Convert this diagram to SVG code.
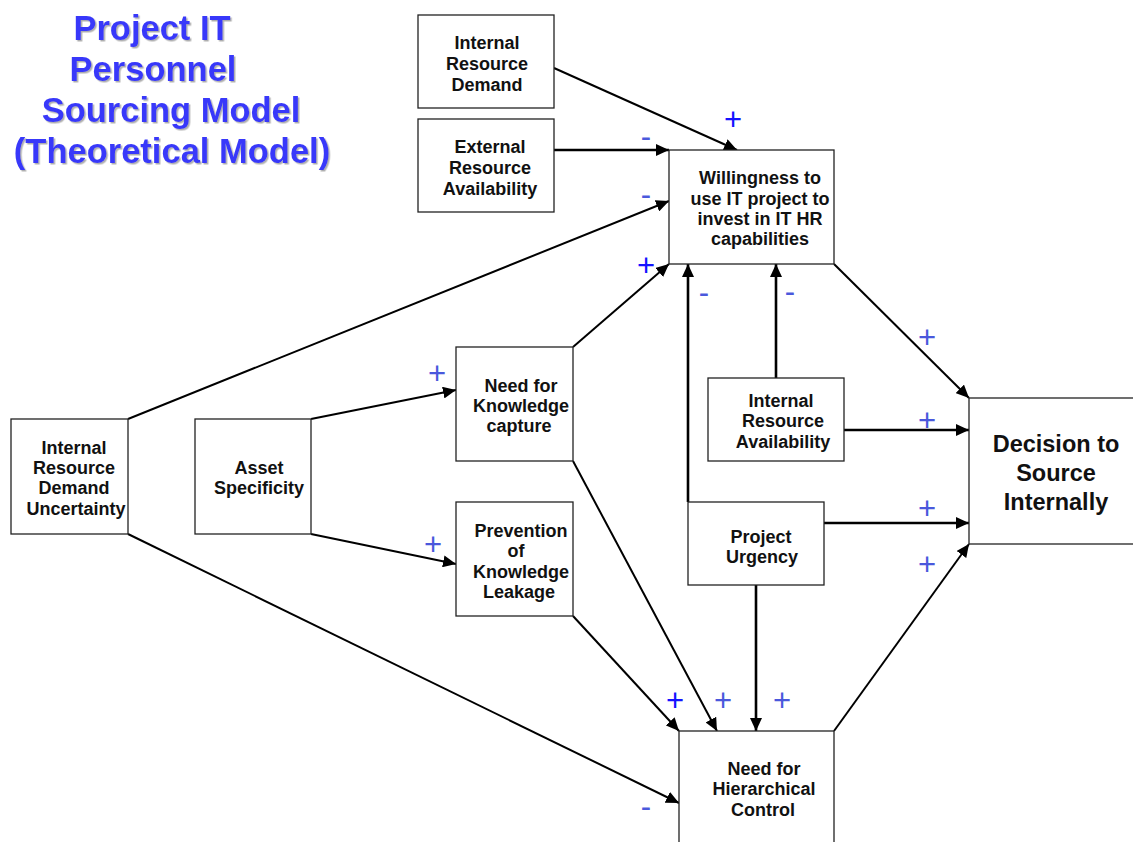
<svg xmlns="http://www.w3.org/2000/svg" width="1133" height="842" viewBox="0 0 1133 842">
  <defs>
    <marker id="arrow" markerUnits="userSpaceOnUse" markerWidth="14" markerHeight="12" refX="13" refY="6" orient="auto">
      <path d="M0,0 L13,6 L0,12 z" fill="#000"/>
    </marker>
    <filter id="shadow" x="-10%" y="-10%" width="120%" height="130%">
      <feDropShadow dx="1.5" dy="1.5" stdDeviation="0.6" flood-color="#9a9a9a" flood-opacity="0.8"/>
    </filter>
  </defs>
  <style>
    .box { fill: #fff; stroke: #222; stroke-width: 1.3; }
    .lbl { font-family: "Liberation Sans", Arial, sans-serif; font-weight: bold; font-size: 18px; fill: #111; text-anchor: middle; }
    .big { font-size: 23.5px; }
    .title { font-family: "Liberation Sans", Arial, sans-serif; font-weight: bold; font-size: 34.5px; fill: #3838fa; text-anchor: middle; }
    .edge { fill: none; stroke: #000; stroke-width: 2; marker-end: url(#arrow); }
    .thick { stroke-width: 2.6; }
    .sign { font-family: "Liberation Sans", Arial, sans-serif; font-size: 31px; text-anchor: middle; }
    .s1 { fill: #1414ff; }
    .s2 { fill: #4a58dc; }
  </style>

  <rect width="1133" height="842" fill="#fff"/>

  <!-- title -->
  <g id="title" filter="url(#shadow)">
    <text class="title" x="152" y="40">Project IT</text>
    <text class="title" x="153" y="81">Personnel</text>
    <text class="title" x="171" y="122">Sourcing Model</text>
    <text class="title" x="172" y="163">(Theoretical Model)</text>
  </g>

  <!-- connectors -->
  <g id="connectors">
    <line class="edge" x1="554" y1="68" x2="737" y2="150"/>
    <line class="edge thick" x1="554" y1="150" x2="669" y2="150"/>
    <line class="edge" x1="128" y1="419" x2="669" y2="201"/>
    <line class="edge" x1="573" y1="347" x2="669" y2="264"/>
    <line class="edge thick" x1="688" y1="502" x2="688" y2="264"/>
    <line class="edge thick" x1="776" y1="378" x2="776" y2="264"/>
    <line class="edge" x1="834" y1="264" x2="969" y2="398"/>
    <line class="edge thick" x1="844" y1="430" x2="969" y2="430"/>
    <line class="edge thick" x1="824" y1="523" x2="969" y2="523"/>
    <line class="edge" x1="834" y1="731" x2="969" y2="544"/>
    <line class="edge" x1="311" y1="419" x2="456" y2="390"/>
    <line class="edge" x1="311" y1="534" x2="456" y2="564"/>
    <line class="edge" x1="573" y1="461" x2="717" y2="731"/>
    <line class="edge" x1="573" y1="616" x2="679" y2="731"/>
    <line class="edge thick" x1="756" y1="585" x2="756" y2="731"/>
    <line class="edge" x1="128" y1="534" x2="679" y2="803"/>
  </g>

  <!-- nodes -->
  <g id="internal-resource-demand">
    <rect class="box" x="418" y="15" width="136" height="93"/>
    <text class="lbl" x="487" y="49">Internal</text>
    <text class="lbl" x="487" y="70">Resource</text>
    <text class="lbl" x="487" y="91">Demand</text>
  </g>
  <g id="external-resource-availability">
    <rect class="box" x="418" y="119" width="136" height="93"/>
    <text class="lbl" x="490" y="153">External</text>
    <text class="lbl" x="490" y="174">Resource</text>
    <text class="lbl" x="490" y="195">Availability</text>
  </g>
  <g id="willingness">
    <rect class="box" x="669" y="150" width="165" height="114"/>
    <text class="lbl" x="760" y="184">Willingness to</text>
    <text class="lbl" x="760" y="205">use IT project to</text>
    <text class="lbl" x="760" y="225">invest in IT HR</text>
    <text class="lbl" x="760" y="245">capabilities</text>
  </g>
  <g id="demand-uncertainty">
    <rect class="box" x="11" y="419" width="117" height="115"/>
    <text class="lbl" x="74" y="454">Internal</text>
    <text class="lbl" x="74" y="474">Resource</text>
    <text class="lbl" x="74" y="494">Demand</text>
    <text class="lbl" x="76" y="515">Uncertainty</text>
  </g>
  <g id="asset-specificity">
    <rect class="box" x="195" y="419" width="116" height="115"/>
    <text class="lbl" x="259" y="474">Asset</text>
    <text class="lbl" x="259" y="494">Specificity</text>
  </g>
  <g id="knowledge-capture">
    <rect class="box" x="456" y="347" width="117" height="114"/>
    <text class="lbl" x="521" y="392">Need for</text>
    <text class="lbl" x="521" y="412">Knowledge</text>
    <text class="lbl" x="519" y="432">capture</text>
  </g>
  <g id="knowledge-leakage">
    <rect class="box" x="456" y="502" width="117" height="114"/>
    <text class="lbl" x="521" y="537">Prevention</text>
    <text class="lbl" x="516" y="557">of</text>
    <text class="lbl" x="521" y="578">Knowledge</text>
    <text class="lbl" x="519" y="598">Leakage</text>
  </g>
  <g id="internal-resource-availability">
    <rect class="box" x="708" y="378" width="136" height="83"/>
    <text class="lbl" x="781" y="407">Internal</text>
    <text class="lbl" x="783" y="427">Resource</text>
    <text class="lbl" x="783" y="448">Availability</text>
  </g>
  <g id="project-urgency">
    <rect class="box" x="688" y="502" width="136" height="83"/>
    <text class="lbl" x="761" y="543">Project</text>
    <text class="lbl" x="762" y="563">Urgency</text>
  </g>
  <g id="decision">
    <rect class="box" x="969" y="398" width="175" height="146"/>
    <text class="lbl big" x="1056" y="452">Decision to</text>
    <text class="lbl big" x="1056" y="481">Source</text>
    <text class="lbl big" x="1056" y="510">Internally</text>
  </g>
  <g id="hierarchical-control">
    <rect class="box" x="679" y="731" width="155" height="125"/>
    <text class="lbl" x="764" y="775">Need for</text>
    <text class="lbl" x="764" y="795">Hierarchical</text>
    <text class="lbl" x="763" y="816">Control</text>
  </g>

  <!-- effect signs -->
  <g id="signs">
    <text class="sign s1" x="733" y="130">+</text>
    <text class="sign s2" x="646" y="147">-</text>
    <text class="sign s2" x="646" y="205">-</text>
    <text class="sign s1" x="646" y="276">+</text>
    <text class="sign s2" x="704" y="303">-</text>
    <text class="sign s2" x="790" y="302">-</text>
    <text class="sign s2" x="927" y="348">+</text>
    <text class="sign s2" x="927" y="431">+</text>
    <text class="sign s2" x="927" y="519">+</text>
    <text class="sign s2" x="927" y="575">+</text>
    <text class="sign s2" x="437" y="384">+</text>
    <text class="sign s2" x="433" y="555">+</text>
    <text class="sign s1" x="675" y="711">+</text>
    <text class="sign s2" x="723" y="711">+</text>
    <text class="sign s2" x="782" y="711">+</text>
    <text class="sign s2" x="646" y="817">-</text>
  </g>
</svg>
